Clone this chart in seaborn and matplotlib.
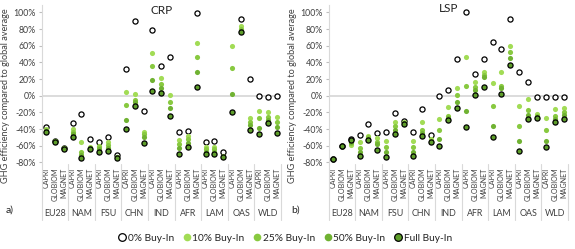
import numpy as np
import pandas as pd
import matplotlib
matplotlib.use("Agg")
import matplotlib.pyplot as plt
import seaborn as sns
from matplotlib.lines import Line2D
from matplotlib.transforms import blended_transform_factory

# ---------------- data ----------------
regions = ["EU28", "NAM", "FSU", "CHN", "IND", "AFR", "LAM", "OAS", "WLD"]
models = ["CAPRI", "GLOBIOM", "MAGNET"]
series = ["0% Buy-In", "10% Buy-In", "25% Buy-In", "50% Buy-In", "Full Buy-In"]
y_ticks = [-80, -60, -40, -20, 0, 20, 40, 60, 80, 100]
nan = np.nan

# CRP panel (order: region x model)
crp_0 = [-38, -54, -63, -33, -22, -52, -55, -49, -71, 32, 90, -18, 79, 36, 47,
         -44, -42, 99, -55, -54, -67, nan, 92, 20, 0, -2, 0]
crp_10 = [-40, -54, -63, -40, -56, -62, -60, -55, -73, 4, 2, -44, 51, 21, 1,
          -53, -48, 63, -61, -61, -72, 60, 84, -27, -18, -20, -26]
crp_25 = [-41, -54, -63, -43, -68, -63, -62, -59, -74, -11, -5, -46, 36, 14, -7,
          -58, -52, 46, -64, -64, -73, 33, 80, -31, -27, -25, -32]
crp_50 = [-42, -54, -63, -46, -71, -63, -64, -63, -74, -29, -8, -49, 19, 9, -15,
          -63, -57, 29, -67, -67, -73, 2, 78, -35, -39, -29, -37]
crp_full = [-43, -55, -64, -50, -75, -64, -67, -66, -75, -40, -12, -57, 6, 3, -24,
            -70, -61, 10, -70, -70, -74, -19, 76, -41, -46, -33, -45]

# LSP panel
lsp_0 = [-76, -60, -52, -47, -34, -45, -44, -21, -30, -44, -16, -47, 0, 7, 44,
         100, 26, 44, 64, 56, 92, 28, 16, -2, -1, -1, -1]
lsp_10 = [-76, -60, -59, -56, -48, -51, -54, -32, -32, -54, -32, -52, -28, -14, 9,
          47, 17, 28, 15, 28, 60, -12, -4, -22, -27, -16, -15]
lsp_25 = [-76, -60, -57, -63, -50, -55, -62, -36, -33, -61, -41, -54, -41, -24, 1,
          12, 10, 25, -12, 12, 53, -36, -17, -24, -41, -24, -19]
lsp_50 = [-76, -60, -55, -68, -52, -58, -68, -41, -33, -68, -45, -55, -52, -27, -8,
          -18, 7, 22, -36, 9, 45, -54, -23, -26, -54, -28, -23]
lsp_full = [-76, -60, -53, -72, -53, -65, -73, -46, -34, -72, -48, -56, -60, -29, -15,
            -38, 1, 11, -50, 2, 37, -66, -28, -27, -62, -32, -28]

panels = [
    ("CRP", "a)", [crp_0, crp_10, crp_25, crp_50, crp_full]),
    ("LSP", "b)", [lsp_0, lsp_10, lsp_25, lsp_50, lsp_full]),
]

# ---------------- style ----------------
sns.set_style("white")
plt.rcParams["font.family"] = ["Lato", "DejaVu Sans"]

face = ["white", "#A2DC55", "#88C940", "#70B232", "#5E9E2A"]
edge = ["black", "#A2DC55", "#88C940", "#70B232", "black"]
lwid = [0.9, 0, 0, 0, 0.9]

keys = [f"{r}|{m}" for r in regions for m in models]

W, H = 575, 249
ax_left_px = [41.5, 328.5]
ax_w_px = 239.5
top_px, bot_px = 4.9, 164.0
ylim = (-82, 109)

fig = plt.figure(figsize=(W / 100, H / 100), dpi=100)

for p, (title, tag, vals) in enumerate(panels):
    ax = fig.add_axes([ax_left_px[p] / W, 1 - bot_px / H, ax_w_px / W, (bot_px - top_px) / H])
    ax.axhline(0, color="#D9D9D9", lw=1.3, zorder=0)
    for s, v in enumerate(vals):
        df = pd.DataFrame({"key": keys, "value": v})
        sns.stripplot(data=df, x="key", y="value", order=keys, jitter=False,
                      color=face[s], edgecolor=edge[s], linewidth=lwid[s],
                      size=3.7, ax=ax, zorder=3 + s)
    ax.set_ylim(*ylim)
    ax.set_xlim(-0.5, len(keys) - 0.5)
    ax.set_yticks(y_ticks)
    ax.set_yticklabels([f"{t}%" for t in y_ticks])
    ax.set_xticks(range(len(keys)))
    ax.set_xticklabels(models * len(regions), rotation=90, fontsize=5.1, color="#404040")
    ax.tick_params(axis="x", length=0, pad=2.5)
    ax.tick_params(axis="y", length=2.5, color="#BFBFBF", labelsize=6.3,
                   labelcolor="#404040", pad=1.5, left=True)
    ax.set_xlabel("")
    ax.set_ylabel("GHG efficiency compared to global average", fontsize=6.6, color="#404040")
    ax.yaxis.set_label_coords(-0.13, 0.43)
    for sp in ["top", "right", "bottom"]:
        ax.spines[sp].set_visible(False)
    ax.spines["left"].set_color("#D9D9D9")
    ax.spines["left"].set_linewidth(0.8)

    ax.text(0.503, 0.965 if p == 0 else 0.975, title, transform=ax.transAxes,
            ha="center", va="center", fontsize=8.5, color="#222222")

    tr = blended_transform_factory(ax.transData, ax.transAxes)
    sep_bottom = -(220 - bot_px) / (bot_px - top_px)
    for k in range(len(regions) + 1):
        xk = -0.5 + 3 * k
        ax.plot([xk, xk], [0, sep_bottom], transform=tr, color="#D9D9D9",
                lw=0.8, clip_on=False)
    lab_y = -(213 - bot_px) / (bot_px - top_px)
    for k, r in enumerate(regions):
        ax.text(3 * k + 1, lab_y, r, transform=tr, ha="center", va="center",
                fontsize=6.4, color="#404040")
    fig.text((10 if p == 0 else 296) / W, 1 - 210 / H, tag, ha="center", va="center",
             fontsize=7.5, color="#222222")

handles = [Line2D([], [], marker="o", linestyle="", markerfacecolor=face[i],
                  markeredgecolor=edge[i], markeredgewidth=lwid[i],
                  markersize=5.5) for i in range(5)]
fig.legend(handles, series, loc="center", bbox_to_anchor=(0.496, 1 - 238 / H), ncol=5,
           frameon=False, fontsize=7.3, handletextpad=0.15, columnspacing=0.85,
           handlelength=0.8, borderaxespad=0, labelcolor="#222222")

fig.savefig("out.png", dpi=100)
